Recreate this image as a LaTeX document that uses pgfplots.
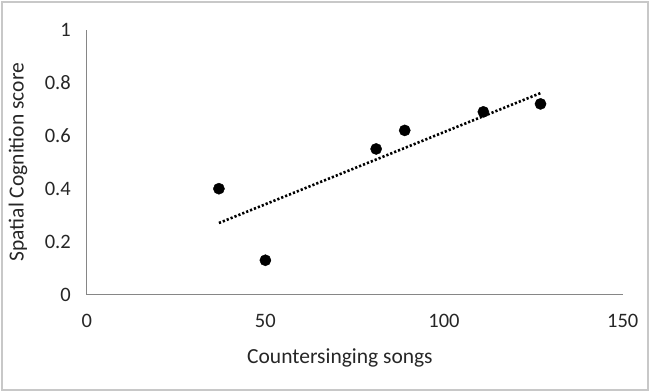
\documentclass[border=0pt]{standalone}
\usepackage{pgfplots}
\usepackage{pgfplotstable}
\pgfplotsset{compat=1.18}
\usepackage{fontspec}
\setmainfont{Carlito}
\pgfplotstableread{
x y
37 0.40
50 0.13
81 0.55
89 0.62
111 0.69
127 0.72
}\datatable
\begin{document}
\begin{tikzpicture}
\useasboundingbox (-86.7bp,-97.3bp) rectangle (563.3bp,294.7bp);
\draw[line width=1.5bp, draw={rgb,255:red,200;green,200;blue,200}] (-84.5bp,-95.1bp) rectangle (561.1bp,292.5bp);
\begin{axis}[
  at={(0,0)}, anchor=origin,
  scale only axis, width=536bp, height=265bp,
  xmin=0, xmax=150, ymin=0, ymax=1,
  xtick={0,50,100,150}, ytick={0,0.2,0.4,0.6,0.8,1},
  axis lines*=left, axis line style={draw={rgb,255:red,134;green,134;blue,134}, line width=1.2bp, -},
  major tick length=0pt,
  /pgf/number format/assume math mode=true,
  ticklabel style={font=\fontsize{20.5bp}{24bp}\selectfont, text=black!85},
  yticklabel style={anchor=east, inner sep=0pt, xshift=-15.7bp},
  xticklabel style={anchor=north, inner sep=0pt, yshift=-19bp},
  label style={font=\fontsize{21.5bp}{26bp}\selectfont, text=black!85},
  xlabel={Countersinging songs},
  ylabel={Spatial Cognition score},
  xlabel style={at={(axis description cs:0.4725,-0.239)}, anchor=center},
  ylabel style={at={(axis description cs:-0.128,0.5)}, anchor=center},
  clip=false,
]
\addplot[only marks, mark=*, mark size=5.6bp, black] table[x=x,y=y] {\datatable};
\addplot[black, line width=2.6bp, dash pattern=on 2.2bp off 2bp] table[x=x, y={create col/linear regression={y=y}}] {\datatable};
\end{axis}
\end{tikzpicture}
\end{document}
